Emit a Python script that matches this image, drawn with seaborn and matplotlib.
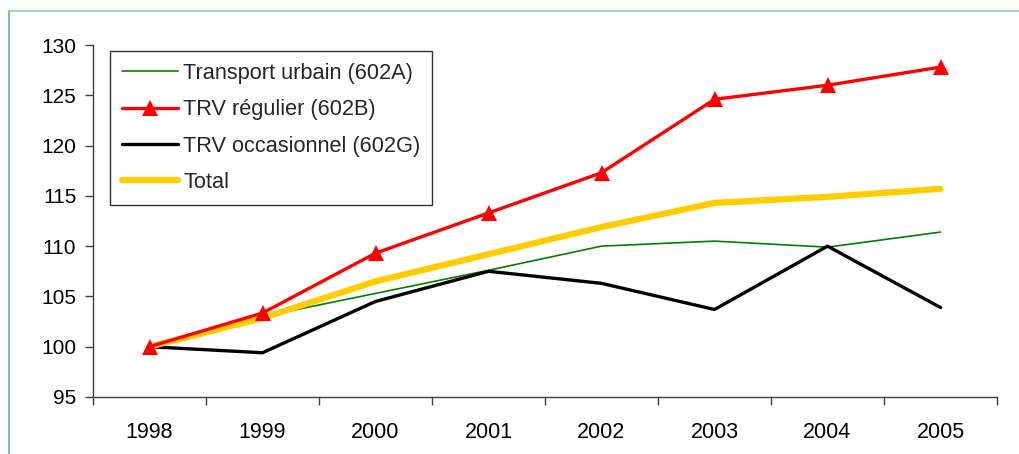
import numpy as np
import pandas as pd
import matplotlib
matplotlib.use("Agg")
import matplotlib.pyplot as plt
import seaborn as sns
from matplotlib.lines import Line2D

years = [1998, 1999, 2000, 2001, 2002, 2003, 2004, 2005]
urbain = [100, 103.0, 105.3, 107.6, 110.0, 110.5, 109.9, 111.4]
regulier = [100, 103.35, 109.3, 113.3, 117.3, 124.6, 126.0, 127.8]
occasionnel = [100, 99.4, 104.5, 107.5, 106.3, 103.7, 110.0, 103.9]
total = [100, 102.85, 106.5, 109.2, 111.9, 114.3, 114.9, 115.7]

labels = ["Transport urbain (602A)", "TRV régulier (602B)", "TRV occasionnel (602G)", "Total"]

sns.set_theme(style="white")
plt.rcParams['font.family'] = ['Liberation Sans', 'DejaVu Sans']

fig = plt.figure(figsize=(10.2, 4.54), dpi=100)
ax = fig.add_axes([93/1020, 1-397/454, (997-93)/1020, (397-45)/454])

sns.lineplot(x=years, y=urbain, ax=ax, color="#008000", lw=1.2, label=labels[0], zorder=3)
sns.lineplot(x=years, y=regulier, ax=ax, color="#ff0000", lw=2.4, marker="^",
             markersize=11, markeredgewidth=0, label=labels[1], zorder=6)
sns.lineplot(x=years, y=occasionnel, ax=ax, color="#000000", lw=2.4, label=labels[2], zorder=4)
sns.lineplot(x=years, y=total, ax=ax, color="#ffcc00", lw=4.5, label=labels[3],
             solid_capstyle="round", zorder=5)

ax.set_xlim(1997.5, 2005.5)
ax.set_ylim(95, 130)
ax.set_yticks(np.arange(95, 131, 5))
ax.set_xticks(years)
ax.set_xticklabels([str(y) for y in years])
ax.set_xticks(np.arange(1997.5, 2005.6, 1), minor=True)
ax.tick_params(axis='x', which='major', length=0, pad=18, labelsize=15.5, labelcolor='black')
ax.tick_params(axis='x', which='minor', length=6, width=1, color='#404040', direction='out', bottom=True)
ax.tick_params(axis='y', which='major', length=6, width=1, color='#404040', direction='out',
               left=True, labelsize=15, pad=6, labelcolor='black')

for s in ['top', 'right']:
    ax.spines[s].set_visible(False)
for s in ['left', 'bottom']:
    ax.spines[s].set_color('#404040')
    ax.spines[s].set_linewidth(1)
ax.set_xlabel("")
ax.set_ylabel("")

leg = ax.legend(loc="upper left", bbox_to_anchor=((110-93)/904, 1-(51-45)/352),
                frameon=True, fancybox=False, shadow=False, fontsize=15.7,
                handlelength=2.55, handletextpad=0.25, labelspacing=0.7,
                borderpad=0.55, borderaxespad=0)
leg.get_frame().set_edgecolor('black')
leg.get_frame().set_linewidth(1)
leg.set_zorder(10)

# green border around the chart area
fig.add_artist(Line2D([9.5/1020, 9.5/1020], [0, 1-11/454], color="#5fba7d", lw=1.2, transform=fig.transFigure))
fig.add_artist(Line2D([9.5/1020, 1.0], [1-11/454, 1-11/454], color="#8fcfa5", lw=1.2, transform=fig.transFigure))

fig.savefig("out.png", dpi=100)
